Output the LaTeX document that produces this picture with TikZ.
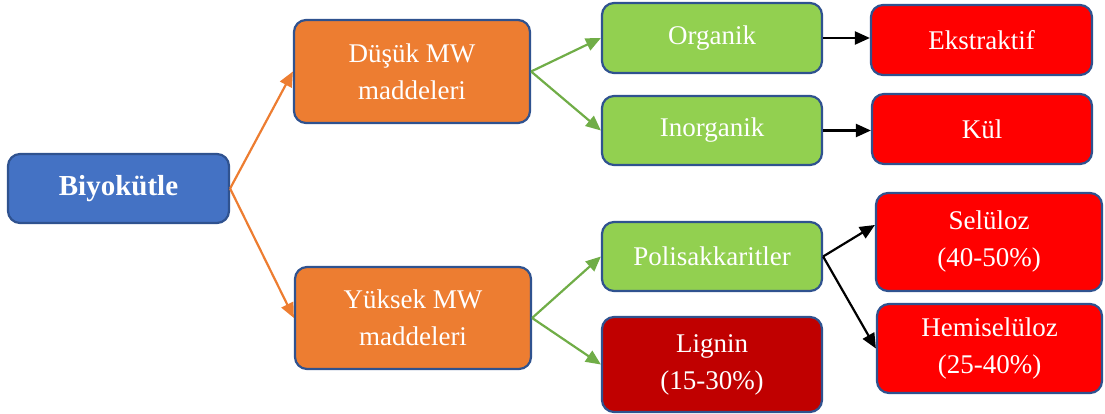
\documentclass[tikz,border=0pt]{standalone}
\usepackage{fontspec}
\setmainfont{Liberation Serif}
\usetikzlibrary{arrows.meta}
\definecolor{bluefill}{HTML}{4472C4}
\definecolor{orangefill}{HTML}{ED7D31}
\definecolor{greenfill}{HTML}{92D050}
\definecolor{redfill}{HTML}{FF0000}
\definecolor{darkredfill}{HTML}{C00000}
\definecolor{edge}{HTML}{2F528F}
\definecolor{greenline}{HTML}{70AD47}
\begin{document}
\begin{tikzpicture}[x=1pt,y=-1pt,
  box/.style={draw=edge, line width=2.2pt, rounded corners=12pt, inner sep=0pt,
    text=white, align=center, font=\fontsize{27}{37}\selectfont},
  link/.style={line width=2.2pt, -{Triangle[length=15pt,width=13pt]}},
  orangelink/.style={link, draw=orangefill},
  greenlink/.style={link, draw=greenline},
  blacklink/.style={link, draw=black}]
\useasboundingbox (0,0) rectangle (1105,414);

% root
\node[box, fill=bluefill, minimum width=221pt, minimum height=69pt] (bio) at (118.5,188.5)
  {\fontsize{29}{34}\selectfont\bfseries Biyokütle};

% molecular-weight groups
\node[box, fill=orangefill, minimum width=236pt, minimum height=103pt] (dusuk) at (412,71.5)
  {Düşük MW\\maddeleri};
\node[box, fill=orangefill, minimum width=236pt, minimum height=102pt] (yuksek) at (413,318)
  {Yüksek MW\\maddeleri};

% sub-groups
\node[box, fill=greenfill, minimum width=220pt, minimum height=70pt] (org) at (712,38) {Organik};
\node[box, fill=greenfill, minimum width=220pt, minimum height=69pt] (inorg) at (712,130.5) {Inorganik};
\node[box, fill=greenfill, minimum width=220pt, minimum height=69pt] (poli) at (712,256.5) {Polisakkaritler};
\node[box, fill=darkredfill, minimum width=220pt, minimum height=95pt] (lignin) at (712,364.5)
  {Lignin\\(15-30\%)};

% components
\node[box, fill=redfill, minimum width=221pt, minimum height=70pt] (ekst) at (981.5,40) {Ekstraktif};
\node[box, fill=redfill, minimum width=220pt, minimum height=70pt] (kul) at (982,129) {Kül};
\node[box, fill=redfill, minimum width=226pt, minimum height=98pt] (sel) at (989,242)
  {Selüloz\\(40-50\%)};
\node[box, fill=redfill, minimum width=225pt, minimum height=89pt] (hemi) at (989.5,348.5)
  {Hemiselüloz\\(25-40\%)};

% connectors
\draw[orangelink] (bio.east) -- (dusuk.west);
\draw[orangelink] (bio.east) -- (yuksek.west);
\draw[greenlink] (dusuk.east) -- (org.west);
\draw[greenlink] (dusuk.east) -- (inorg.west);
\draw[greenlink] (yuksek.east) -- (poli.west);
\draw[greenlink] (yuksek.east) -- (lignin.west);
\draw[blacklink] (org.east) -- (org.east -| ekst.west);
\draw[blacklink] (inorg.east) -- (inorg.east -| kul.west);
\draw[blacklink] (poli.east) -- ([yshift=17pt]sel.west);
\draw[blacklink] (poli.east) -- (hemi.west);
\end{tikzpicture}
\end{document}
